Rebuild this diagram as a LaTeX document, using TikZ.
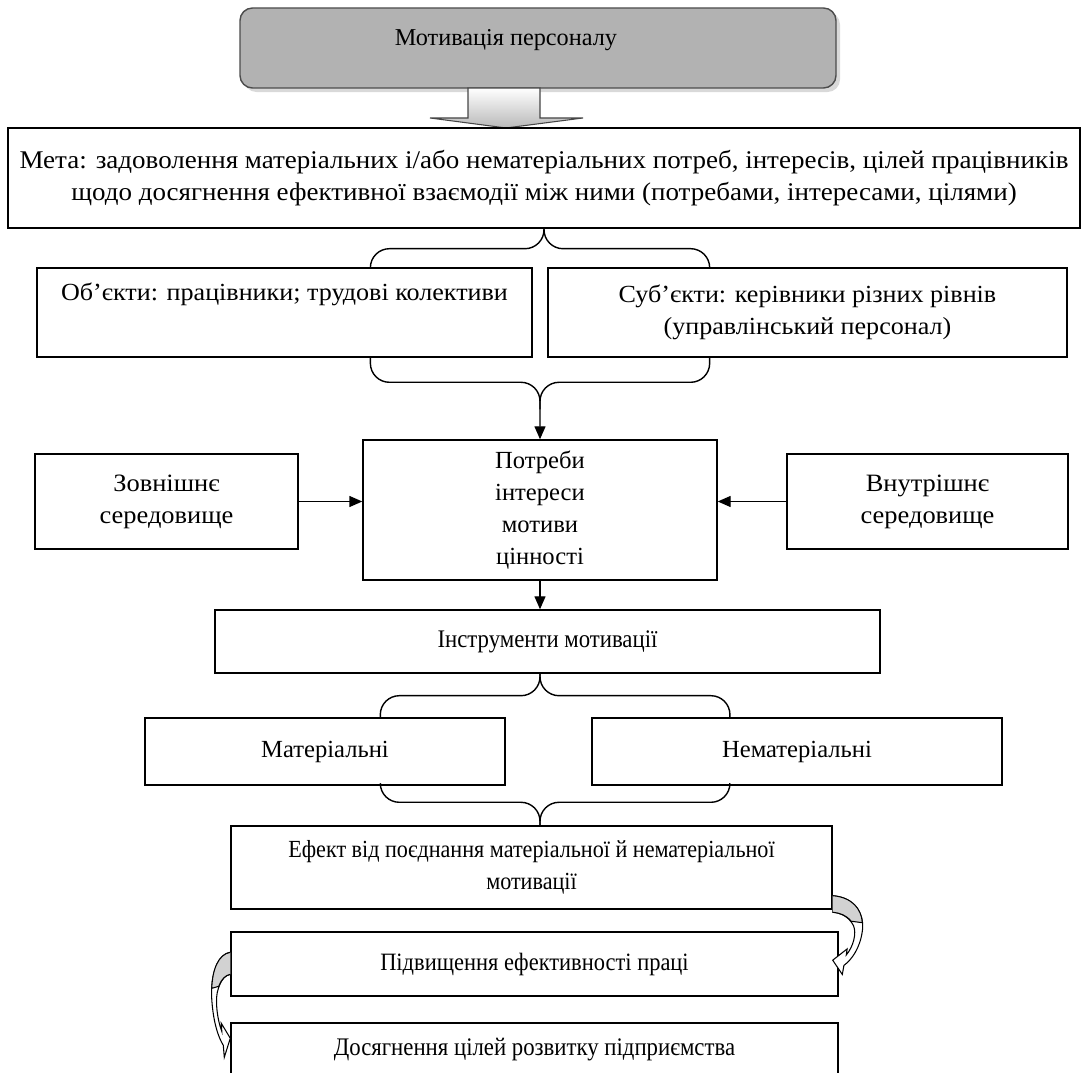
\documentclass[tikz,border=0pt]{standalone}
\usepackage{fontspec}
\setmainfont{Liberation Serif}
\newfontfamily\condfont{Liberation Serif}[FakeStretch=0.9]
\newfontfamily\expfont{Liberation Serif}[FakeStretch=1.06]
\usetikzlibrary{positioning, arrows.meta, shadows, calc}

\newcommand{\fs}[1]{\fontsize{#1}{18.2}\selectfont}

\tikzset{
  blk/.style={draw, line width=0.8pt, align=center, inner sep=1pt, font=\fs{14}},
  brace/.style={line width=0.8pt, rounded corners=0.38cm},
  arr/.style={line width=0.8pt, -{Triangle[length=0.26cm, width=0.22cm]}},
  bendarrow/.pic={
    \filldraw[fill=white, line width=0.6pt] (0,0) .. controls (-0.3,-0.05) and (-0.4,-0.55) .. (-0.37,-0.95)
      .. controls (-0.34,-1.4) and (-0.24,-1.7) .. (-0.14,-1.86) -- (-0.12,-2.1) -- (0,-1.72) -- (-0.18,-1.42) -- (-0.17,-1.58)
      .. controls (-0.26,-1.35) and (-0.3,-1.0) .. (-0.26,-0.8) .. controls (-0.2,-0.55) and (-0.1,-0.46) .. (0,-0.44) -- cycle;
    \filldraw[fill=gray!35, line width=0.6pt] (0,0) .. controls (-0.24,-0.04) and (-0.36,-0.35) .. (-0.37,-0.72)
      -- (-0.23,-0.68) .. controls (-0.17,-0.52) and (-0.09,-0.46) .. (0,-0.44);
  }
}

\begin{document}
\begin{tikzpicture}
  \path[use as bounding box, clip] (0,0) rectangle (21.7,-21.46);

  % title with block arrow
  \node[draw=gray!60!black, line width=0.8pt, rounded corners=0.25cm, left color=gray!60, middle color=gray!10, right color=gray!60, minimum width=11.92cm, minimum height=1.6cm, drop shadow={opacity=0.3}] at (10.76,-0.96) (title) {};
  \node[font=\fs{13.8}] at (10.12,-0.8) (titletext) {Мотивація персоналу};
  \path[draw=gray!55!black, line width=0.6pt, top color=white, bottom color=gray!55] (9.36,-1.76) -- (9.36,-2.36) -- (8.6,-2.36) -- (10.12,-2.56) -- (11.66,-2.36) -- (10.8,-2.36) -- (10.8,-1.76) -- cycle;

  \node[blk, font=\expfont\fs{14.5}, minimum width=21.44cm, minimum height=2cm] at (10.88,-3.56) (goal) {Мета: задоволення матеріальних і/або нематеріальних потреб, інтересів, цілей працівників\\щодо досягнення ефективної взаємодії між ними (потребами, інтересами, цілями)};

  \node[blk, font=\expfont\fs{14}, minimum width=9.9cm, minimum height=1.78cm] at (5.69,-6.25) (obj) {Об’єкти: працівники; трудові колективи\\\strut};
  \node[blk, font=\expfont\fs{14}, minimum width=10.38cm, minimum height=1.78cm] at (16.15,-6.25) (subj) {Суб’єкти: керівники різних рівнів\\(управлінський персонал)};

  \node[blk, minimum width=7.08cm, minimum height=2.8cm] at (10.8,-10.2) (need) {Потреби\\інтереси\\мотиви\\цінності};
  \node[blk, font=\expfont\fs{14.2}, minimum width=5.26cm, minimum height=1.9cm] at (3.33,-10.03) (ext) {Зовнішнє\\середовище};
  \node[blk, font=\expfont\fs{14.2}, minimum width=5.62cm, minimum height=1.9cm] at (18.55,-10.03) (int) {Внутрішнє\\середовище};

  \node[blk, font=\condfont\fs{14.4}, minimum width=13.3cm, minimum height=1.26cm] at (10.95,-12.83) (tools) {Інструменти мотивації};
  \node[blk, minimum width=7.2cm, minimum height=1.34cm] at (6.5,-15.03) (mat) {Матеріальні};
  \node[blk, minimum width=8.2cm, minimum height=1.34cm] at (15.94,-15.03) (nonmat) {Нематеріальні};

  \node[blk, font=\condfont\fs{14}, minimum width=12.02cm, minimum height=1.66cm] at (10.63,-17.35) (eff) {Ефект від поєднання матеріальної й нематеріальної\\мотивації};
  \node[blk, font=\condfont\fs{14.2}, minimum width=12.14cm, minimum height=1.28cm] at (10.69,-19.28) (impr) {Підвищення ефективності праці};
  \node[blk, font=\condfont\fs{14.4}, minimum width=12.14cm, minimum height=1.08cm] at (10.69,-21) (dev) {Досягнення цілей розвитку підприємства};

  % braces
  \coordinate (b1) at ($(goal.south)+(0,-0.4)$);
  \draw[brace] ($(obj.north west)!0.673!(obj.north east)$) |- (b1) -- (goal.south);
  \draw[brace] ($(subj.north west)!0.312!(subj.north east)$) |- (b1) -- (goal.south);

  \coordinate (b2) at ($(need.north)+(0,1.14)$);
  \draw[brace] ($(obj.south west)!0.673!(obj.south east)$) |- (b2) -- ($(need.north)+(0,0.6)$);
  \draw[brace, arr] ($(subj.south west)!0.312!(subj.south east)$) |- (b2) -- (need.north);

  \coordinate (b3) at ($(need.south |- tools.south)+(0,-0.44)$);
  \draw[brace] ($(mat.north west)!0.653!(mat.north east)$) |- (b3) -- (need.south |- tools.south);
  \draw[brace] ($(nonmat.north west)!0.337!(nonmat.north east)$) |- (b3) -- (need.south |- tools.south);

  \coordinate (b4) at ($(need.south |- eff.north)+(0,0.46)$);
  \draw[brace] ($(mat.south west)!0.653!(mat.south east)$) |- (b4) -- (need.south |- eff.north);
  \draw[brace] ($(nonmat.south west)!0.337!(nonmat.south east)$) |- (b4) -- (need.south |- eff.north);

  % arrows
  \draw[arr] (ext.east) -- (ext.east -| need.west);
  \draw[arr] (int.west) -- (int.west -| need.east);
  \draw[arr] (need.south) -- (need.south |- tools.north);

  % bent arrows
  \pic[shift={($(eff.south east)+(0,0.28)$)}, xscale=-1.6, yscale=0.75] {bendarrow};
  \pic[shift={($(impr.north west)+(0,-0.42)$)}] {bendarrow};
\end{tikzpicture}
\end{document}
